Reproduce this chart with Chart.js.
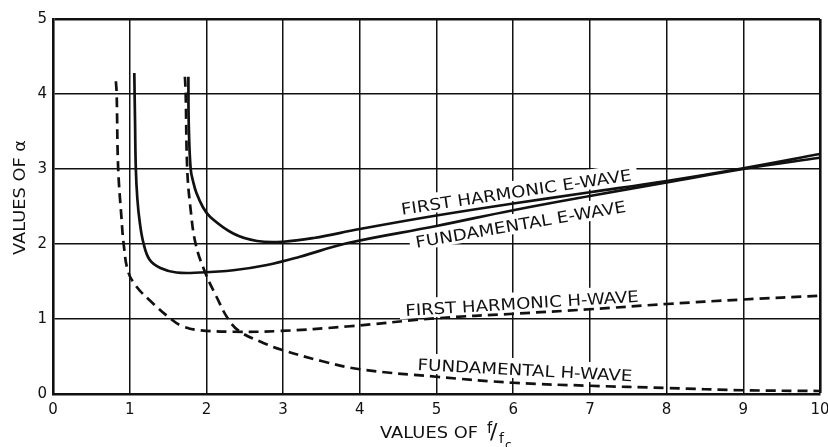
<!DOCTYPE html>
<html>
<head>
<meta charset="utf-8">
<script src="https://cdn.jsdelivr.net/npm/chart.js@4"></script>
<style>
  html, body { margin: 0; padding: 0; background: #fff; }
  #wrap { width: 828px; height: 447px; }
</style>
</head>
<body>
<div id="wrap"><canvas id="chart" width="828" height="447"></canvas></div>
<script>
// curves (x = f/fc, y = alpha)
const fundEX = [1.06, 1.07, 1.08, 1.1, 1.13, 1.18, 1.26, 1.4, 1.61, 1.92, 2.35, 2.79, 3.22, 3.83, 5, 6, 7, 8, 9, 10]
const fundEY = [4.28, 3.6, 3.0, 2.6, 2.3, 2.01, 1.79, 1.68, 1.62, 1.62, 1.65, 1.72, 1.83, 2.01, 2.24, 2.45, 2.64, 2.82, 3.0, 3.15]

const firstEX = [1.765, 1.77, 1.795, 1.83, 1.87, 1.95, 2.05, 2.35, 2.66, 3.0, 3.4, 4, 5, 6, 7, 8, 9, 10]
const firstEY = [4.23, 3.6, 3.0, 2.82, 2.68, 2.5, 2.36, 2.14, 2.04, 2.03, 2.08, 2.2, 2.38, 2.54, 2.69, 2.84, 3.01, 3.2]

const firstHX = [0.82, 0.83, 0.85, 0.895, 0.92, 0.98, 1.09, 1.26, 1.55, 1.7, 1.92, 2.35, 2.96, 3.83, 5, 6, 7, 8, 9, 10]
const firstHY = [4.17, 4.0, 3.0, 2.32, 2.01, 1.63, 1.43, 1.25, 0.99, 0.9, 0.85, 0.83, 0.84, 0.9, 1.01, 1.07, 1.13, 1.2, 1.26, 1.31]

const fundHX = [1.72, 1.73, 1.75, 1.79, 1.86, 1.98, 2.13, 2.29, 2.44, 2.7, 2.98, 3.5, 4, 5, 6, 7, 8, 9, 10]
const fundHY = [4.23, 4.0, 3.0, 2.5, 2.0, 1.63, 1.3, 0.99, 0.83, 0.7, 0.59, 0.44, 0.33, 0.23, 0.15, 0.11, 0.08, 0.05, 0.04]

const xTicks = [0, 1, 2, 3, 4, 5, 6, 7, 8, 9, 10]
const yTicks = [0, 1, 2, 3, 4, 5]

// curve labels, start/end of the baseline in data units
const labelTexts = ['FIRST HARMONIC E-WAVE', 'FUNDAMENTAL E-WAVE', 'FIRST HARMONIC H-WAVE', 'FUNDAMENTAL H-WAVE']
const labelStart = [[4.55, 2.39], [4.74, 1.95], [4.60, 1.04], [4.75, 0.32]]
const labelEnd = [[7.55, 2.85], [7.48, 2.43], [7.64, 1.23], [7.55, 0.17]]

const INK = '#111'
const FONT = "'DejaVu Sans', sans-serif"

function pts(xs, ys){ return xs.map((x, i) => ({x: x, y: ys[i]})) }

function fitText(ctx, txt, x, y, w){
  const m = ctx.measureText(txt).width
  ctx.save()
  ctx.translate(x, y)
  ctx.scale(w / m, 1)
  ctx.fillText(txt, 0, 0)
  ctx.restore()
}

function labelGeom(chart, i){
  const xs = chart.scales.x, ys = chart.scales.y
  const x0 = xs.getPixelForValue(labelStart[i][0]), y0 = ys.getPixelForValue(labelStart[i][1])
  const x1 = xs.getPixelForValue(labelEnd[i][0]), y1 = ys.getPixelForValue(labelEnd[i][1])
  return {x0, y0, ang: Math.atan2(y1 - y0, x1 - x0), len: Math.hypot(x1 - x0, y1 - y0)}
}

const curveLabels = {
  id: 'curveLabels',
  beforeDatasetsDraw(chart){
    // white patches: grid is broken behind the lettering
    const ctx = chart.ctx
    labelTexts.forEach((t, i) => {
      const g = labelGeom(chart, i)
      ctx.save()
      ctx.translate(g.x0, g.y0)
      ctx.rotate(g.ang)
      ctx.fillStyle = '#fff'
      ctx.fillRect(-6, -17, g.len + 12, 20)
      ctx.restore()
    })
  },
  afterDatasetsDraw(chart){
    const ctx = chart.ctx
    ctx.save()
    ctx.fillStyle = INK
    ctx.font = '16px ' + FONT
    ctx.textBaseline = 'alphabetic'
    ctx.textAlign = 'left'
    labelTexts.forEach((t, i) => {
      const g = labelGeom(chart, i)
      ctx.save()
      ctx.translate(g.x0, g.y0)
      ctx.rotate(g.ang)
      fitText(ctx, t, 0, 0, g.len)
      ctx.restore()
    })
    ctx.restore()
  },
  afterDraw(chart){
    const ctx = chart.ctx
    ctx.save()
    ctx.fillStyle = INK
    ctx.textAlign = 'left'
    ctx.textBaseline = 'alphabetic'
    // y title
    ctx.font = '16px ' + FONT
    ctx.save()
    ctx.translate(25, 255)
    ctx.rotate(-Math.PI / 2)
    fitText(ctx, 'VALUES OF α', 0, 0, 115)
    ctx.restore()
    // x title with f/fc
    ctx.font = '15px ' + FONT
    fitText(ctx, 'VALUES OF', 380, 438, 98)
    ctx.font = '15px ' + FONT
    ctx.fillText('f', 487, 433)
    ctx.font = '22px ' + FONT
    ctx.fillText('/', 490, 439)
    ctx.font = '14px ' + FONT
    ctx.fillText('f', 499, 443)
    ctx.font = '12px ' + FONT
    ctx.fillText('c', 505, 449)
    ctx.restore()
  }
}

function ds(label, xs, ys, dashed){
  return {
    label: label,
    data: pts(xs, ys),
    borderColor: INK,
    borderWidth: 2.7,
    borderDash: dashed ? [10, 6] : [],
    pointRadius: 0,
    fill: false,
    showLine: true,
    tension: 0.4
  }
}

function gridWidth(max){
  return ctx => (ctx.tick && ctx.tick.value === max) ? 2.6 : 1.5
}

new Chart(document.getElementById('chart'), {
  type: 'scatter',
  data: {
    datasets: [
      ds('Fundamental E-wave', fundEX, fundEY, false),
      ds('First harmonic E-wave', firstEX, firstEY, false),
      ds('First harmonic H-wave', firstHX, firstHY, true),
      ds('Fundamental H-wave', fundHX, fundHY, true)
    ]
  },
  options: {
    responsive: false,
    animation: false,
    layout: { padding: { left: 0, right: 8, top: 19, bottom: 0 } },
    plugins: { legend: { display: false }, tooltip: { enabled: false } },
    scales: {
      x: {
        type: 'linear', min: 0, max: 10,
        afterBuildTicks: s => { s.ticks = xTicks.map(v => ({value: v})) },
        afterFit: s => { s.height = 53; s.paddingLeft = 0; s.paddingRight = 0 },
        grid: { color: INK, lineWidth: gridWidth(10), drawTicks: false },
        border: { color: INK, width: 2.6 },
        ticks: { color: INK, font: { family: FONT, size: 15 }, padding: 7, maxRotation: 0 }
      },
      y: {
        type: 'linear', min: 0, max: 5,
        afterBuildTicks: s => { s.ticks = yTicks.map(v => ({value: v})) },
        afterFit: s => { s.width = 53 },
        grid: { color: INK, lineWidth: gridWidth(5), drawTicks: false },
        border: { color: INK, width: 2.6 },
        ticks: { color: INK, font: { family: FONT, size: 15 }, padding: 6 }
      }
    }
  },
  plugins: [curveLabels]
})
</script>
</body>
</html>
